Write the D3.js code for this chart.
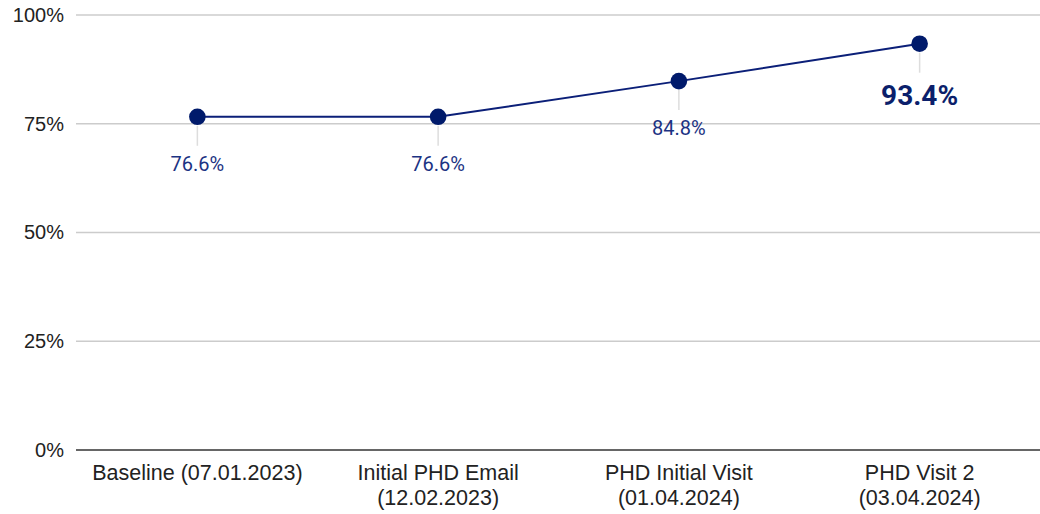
<!DOCTYPE html>
<html><head><meta charset="utf-8">
<script src="https://cdn.jsdelivr.net/npm/d3@7"></script>
<style>
html,body{margin:0;padding:0;background:#fff;}
svg{display:block;}
</style></head>
<body>
<svg id="chart" width="1040" height="514"></svg>
<script>
const categories = [
  ["Baseline (07.01.2023)"],
  ["Initial PHD Email", "(12.02.2023)"],
  ["PHD Initial Visit", "(01.04.2024)"],
  ["PHD Visit 2", "(03.04.2024)"]
];
const values = [76.6, 76.6, 84.8, 93.4];
const labels = ["76.6%", "76.6%", "84.8%", "93.4%"];
const yTicks = [0, 25, 50, 75, 100];

const svg = d3.select("#chart");
const margin = {left: 77, right: 0, top: 15, bottom: 64};
const W = 1040, H = 514;
const keys = categories.map((c, i) => i);

const x = d3.scaleBand().domain(keys).range([margin.left, W - margin.right]);
const y = d3.scaleLinear().domain([0, 100]).range([H - margin.bottom, margin.top]);

// gridlines
const grid = svg.append("g");
grid.selectAll("line").data(yTicks.filter(t => t > 0)).join("line")
  .attr("x1", margin.left - 1).attr("x2", W)
  .attr("y1", d => y(d)).attr("y2", d => y(d))
  .attr("stroke", "#cccccc").attr("stroke-width", 1.5);

// y axis labels
const yAxis = d3.axisLeft(y).tickValues(yTicks).tickFormat(d => d + "%").tickSize(0).tickPadding(13);
const ya = svg.append("g").attr("transform", `translate(${margin.left},0)`).call(yAxis);
ya.select(".domain").remove();
ya.selectAll("text").attr("font-family", "Liberation Sans, Arial, sans-serif")
  .attr("font-size", 20).attr("fill", "#222");

// zero baseline
svg.append("line").attr("x1", margin.left - 1).attr("x2", W)
  .attr("y1", y(0)).attr("y2", y(0)).attr("stroke", "#333").attr("stroke-width", 1.5);

// x axis labels
const xAxis = d3.axisBottom(x).tickSize(0).tickFormat("");
const xa = svg.append("g").attr("transform", `translate(0,${y(0)})`).call(xAxis);
xa.select(".domain").remove();
xa.selectAll(".tick").each(function(d) {
  const t = d3.select(this).append("text")
    .attr("font-family", "Liberation Sans, Arial, sans-serif")
    .attr("font-size", 21.5).attr("fill", "#222").attr("text-anchor", "middle");
  categories[d].forEach((line, j) => {
    t.append("tspan").attr("x", 0).attr("y", 30 + j * 25).text(line);
  });
});

const cx = i => x(i) + x.bandwidth() / 2;

// leader lines
svg.append("g").selectAll("line").data(values).join("line")
  .attr("x1", (d, i) => cx(i)).attr("x2", (d, i) => cx(i))
  .attr("y1", d => y(d) + 9).attr("y2", d => y(d) + 29)
  .attr("stroke", "#dddddd").attr("stroke-width", 1.5);

// line
const line = d3.line().x((d, i) => cx(i)).y(d => y(d));
svg.append("path").datum(values).attr("d", line)
  .attr("fill", "none").attr("stroke", "#0b1f78").attr("stroke-width", 2);

// points
svg.append("g").selectAll("circle").data(values).join("circle")
  .attr("cx", (d, i) => cx(i)).attr("cy", d => y(d)).attr("r", 8.3)
  .attr("fill", "#001a6b");

// data labels
svg.append("g").selectAll("text").data(values).join("text")
  .attr("x", (d, i) => cx(i))
  .attr("y", (d, i) => y(d) + (i === values.length - 1 ? 61 : 54))
  .attr("text-anchor", "middle")
  .attr("font-family", "Roboto, sans-serif")
  .attr("font-size", (d, i) => i === values.length - 1 ? 28 : 20)
  .attr("font-weight", (d, i) => i === values.length - 1 ? "bold" : "normal")
  .attr("fill", (d, i) => i === values.length - 1 ? "#0b1f6b" : "#1c3383")
  .text((d, i) => labels[i]);
</script>
</body></html>
